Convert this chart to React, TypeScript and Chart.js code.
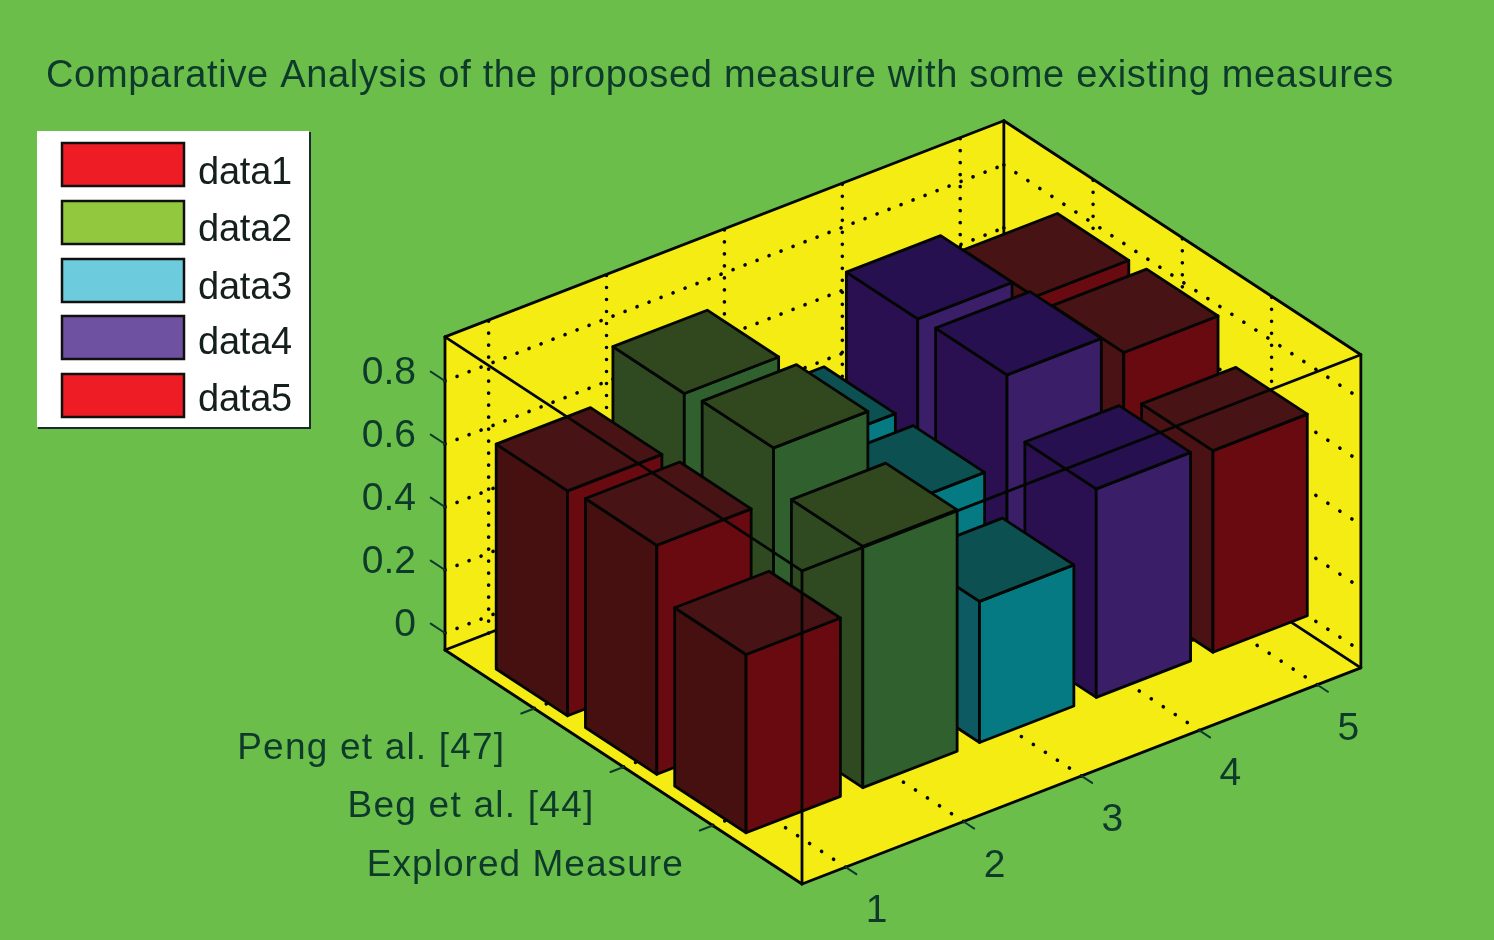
import React, { useEffect, useRef } from "react";
import { Chart, registerables } from "chart.js";

Chart.register(...registerables);

const titleText = "Comparative Analysis of the proposed measure with some existing measures";
const rowLabels = ["Explored Measure", "Beg et al. [44]", "Peng et al. [47]"];
const xTicks = [1, 2, 3, 4, 5];
const zTicks = [0, 0.2, 0.4, 0.6, 0.8];
const seriesNames = ["data1", "data2", "data3", "data4", "data5"];

// value per row: Explored, Beg, Peng
const data1 = [0.566, 0.727, 0.714];
const data2 = [0.766, 0.893, 0.88];
const data3 = [0.448, 0.556, 0.557];
const data4 = [0.662, 0.838, 0.83];
const data5 = [0.64, 0.766, 0.757];
const seriesValues = [data1, data2, data3, data4, data5];

const legendColors = ["#ee1c25", "#92c83e", "#6ccbdc", "#6f51a1", "#ee1c25"];
const leftFace = ["#461010", "#2f4a20", "#0d5a62", "#2a1050", "#4a1214"];
const rightFace = ["#680a0f", "#31602f", "#067a82", "#3a1f68", "#680a0f"];
const topFace = ["#481314", "#31481f", "#0d5052", "#27104f", "#481314"];

const BG = "#6cbe4b";
const YELLOW = "#f5ec14";
const INK = "#040604";
const TEXT = "#0d3a2a";
const FONT = '"Liberation Sans", Arial, sans-serif';

// Projection of the parallel 3D view
const B = { x: 802, y: 884 };
const EX = { x: 117.9, y: -45.6 };
const EY = { x: -89.25, y: -58.5 };
const UNIT_Z = 315;
const Z_FLOOR_OFFSET = 17;
const U_MAX = 4.74;
const V_MAX = 4;
const U_FIRST = 0.37;
const Z_MIN = -Z_FLOOR_OFFSET / UNIT_Z;
const Z_MAX = 0.94;
const BAR_LOW_U = 0.39;
const BAR_HIGH_U = 0.41;
const BAR_HALF_V = 0.4;
const BAR_STEP = 0.99;

// u: along the x axis from the near corner, v: along the row axis, z: value
function pr(u: number, v: number, z: number) {
  return {
    x: B.x + u * EX.x + v * EY.x,
    y: B.y + u * EX.y + v * EY.y - (z - Z_MIN) * UNIT_Z,
  };
}

type Pt = { x: number; y: number };
const datasets: any[] = [];

function poly(points: Pt[], fillColor: string | null, lineColor: string, width: number, dash?: number[]) {
  datasets.push({
    data: points,
    showLine: true,
    tension: 0,
    pointRadius: 0,
    pointHoverRadius: 0,
    borderColor: lineColor,
    borderWidth: width,
    borderDash: dash || [],
    borderJoinStyle: "round",
    borderCapStyle: "round",
    fill: fillColor ? "shape" : false,
    backgroundColor: fillColor || "transparent",
  });
}

function line(a: Pt, b: Pt, w = 2.8, color = INK, dash?: number[]) {
  poly([a, b], null, color, w, dash);
}

// Dotted gridline: the dots repeat every 12px along the line's longer screen direction
const DOT_W = 3.6;
const DOT_PITCH = 12;
function dotted(a: Pt, b: Pt) {
  const dx = Math.abs(b.x - a.x);
  const dy = Math.abs(b.y - a.y);
  const pitch = (DOT_PITCH * Math.hypot(dx, dy)) / Math.max(dx, dy);
  line(a, b, DOT_W, INK, [0.1, pitch - 0.1]);
}

// Yellow walls + floor
poly(
  [pr(0, V_MAX, Z_MIN), pr(0, 0, Z_MIN), pr(U_MAX, 0, Z_MIN), pr(U_MAX, 0, Z_MAX), pr(U_MAX, V_MAX, Z_MAX), pr(0, V_MAX, Z_MAX), pr(0, V_MAX, Z_MIN)],
  YELLOW,
  YELLOW,
  1,
);

// Grid
xTicks.forEach((t) => {
  const u = t - 1 + U_FIRST;
  dotted(pr(u, 0, Z_MIN), pr(u, V_MAX, Z_MIN));
  dotted(pr(u, V_MAX, Z_MIN), pr(u, V_MAX, Z_MAX));
});
rowLabels.forEach((_, i) => {
  const v = i + 1;
  dotted(pr(0, v, Z_MIN), pr(U_MAX, v, Z_MIN));
  dotted(pr(U_MAX, v, Z_MIN), pr(U_MAX, v, Z_MAX));
});
zTicks.forEach((z) => {
  dotted(pr(0, V_MAX, z), pr(U_MAX, V_MAX, z));
  dotted(pr(U_MAX, V_MAX, z), pr(U_MAX, 0, z));
});

// Back box edges
line(pr(0, V_MAX, Z_MIN), pr(U_MAX, V_MAX, Z_MIN));
line(pr(U_MAX, V_MAX, Z_MIN), pr(U_MAX, 0, Z_MIN));
line(pr(U_MAX, V_MAX, Z_MIN), pr(U_MAX, V_MAX, Z_MAX));
line(pr(0, V_MAX, Z_MIN), pr(0, V_MAX, Z_MAX));
line(pr(U_MAX, 0, Z_MIN), pr(U_MAX, 0, Z_MAX));
line(pr(0, V_MAX, Z_MAX), pr(U_MAX, V_MAX, Z_MAX));
line(pr(U_MAX, V_MAX, Z_MAX), pr(U_MAX, 0, Z_MAX));

// Bars, painted from back to front
for (let s = seriesValues.length - 1; s >= 0; s--) {
  for (let r = rowLabels.length - 1; r >= 0; r--) {
    const z = seriesValues[s][r];
    const u = (xTicks[s] - 1) * BAR_STEP + U_FIRST;
    const v = r + 1;
    const u0 = u - BAR_LOW_U;
    const u1 = u + BAR_HIGH_U;
    const v0 = v - BAR_HALF_V;
    const v1 = v + BAR_HALF_V;
    poly([pr(u0, v0, 0), pr(u0, v1, 0), pr(u0, v1, z), pr(u0, v0, z), pr(u0, v0, 0)], leftFace[s], INK, 2.8);
    poly([pr(u0, v0, 0), pr(u1, v0, 0), pr(u1, v0, z), pr(u0, v0, z), pr(u0, v0, 0)], rightFace[s], INK, 2.8);
    poly([pr(u0, v0, z), pr(u1, v0, z), pr(u1, v1, z), pr(u0, v1, z), pr(u0, v0, z)], topFace[s], INK, 2.8);
  }
}

// Front box edges
line(pr(0, 0, Z_MIN), pr(0, 0, Z_MAX));
line(pr(0, V_MAX, Z_MAX), pr(0, 0, Z_MAX));
line(pr(0, 0, Z_MAX), pr(U_MAX, 0, Z_MAX));
line(pr(0, V_MAX, Z_MIN), pr(0, 0, Z_MIN));
line(pr(0, 0, Z_MIN), pr(U_MAX, 0, Z_MIN));

// Tick marks
xTicks.forEach((t) => {
  const u = t - 1 + U_FIRST;
  line(pr(u, 0, Z_MIN), pr(u, -0.12, Z_MIN), 2, TEXT);
});
rowLabels.forEach((_, i) => {
  line(pr(0, i + 1, Z_MIN), pr(-0.11, i + 1, Z_MIN), 2, TEXT);
});
zTicks.forEach((z) => {
  line(pr(0, V_MAX, z), pr(0, V_MAX + 0.16, z), 2, TEXT);
});

function fitText(ctx: CanvasRenderingContext2D, text: string, x: number, y: number, width: number) {
  (ctx as any).letterSpacing = "0px";
  const w = ctx.measureText(text).width;
  (ctx as any).letterSpacing = `${(width - w) / text.length}px`;
  ctx.fillText(text, x, y);
  (ctx as any).letterSpacing = "0px";
}

const legendTops = [143, 201, 259, 316, 374];
const legendBaselines = [184, 241, 299, 354, 411];
const rowTextWidths = [317, 247, 268];

const textPlugin = {
  id: "textLayer",
  afterDraw(chart: any) {
    const ctx: CanvasRenderingContext2D = chart.ctx;
    ctx.save();
    ctx.textAlign = "left";
    ctx.textBaseline = "alphabetic";
    ctx.fillStyle = TEXT;
    ctx.font = `38px ${FONT}`;
    fitText(ctx, titleText, 46, 87, 1348);

    // legend
    ctx.fillStyle = "#1a2a30";
    ctx.fillRect(38, 132, 273, 297);
    ctx.fillStyle = "#ffffff";
    ctx.fillRect(37, 131, 272, 296);
    seriesNames.forEach((name, i) => {
      ctx.fillStyle = legendColors[i];
      ctx.strokeStyle = "#10100f";
      ctx.lineWidth = 2.5;
      ctx.fillRect(62, legendTops[i], 122, 43);
      ctx.strokeRect(62, legendTops[i], 122, 43);
      ctx.fillStyle = "#15201c";
      ctx.font = `38px ${FONT}`;
      fitText(ctx, name, 198, legendBaselines[i], 94);
    });

    ctx.fillStyle = TEXT;
    ctx.font = `39px ${FONT}`;
    zTicks.forEach((z) => {
      const p = pr(0, V_MAX, z);
      ctx.textAlign = "right";
      ctx.fillText(String(z), 416, p.y + 3);
    });
    ctx.textAlign = "left";
    ctx.font = `37px ${FONT}`;
    rowLabels.forEach((lab, i) => {
      const p = pr(0, i + 1, Z_MIN);
      const w = rowTextWidths[i];
      fitText(ctx, lab, p.x - 29 - w, p.y + 50, w);
    });
    ctx.textAlign = "center";
    ctx.font = `39px ${FONT}`;
    xTicks.forEach((t) => {
      const p = pr(t - 1 + U_FIRST, 0, Z_MIN);
      ctx.fillText(String(t), p.x + 31, p.y + 55);
    });
    ctx.restore();
  },
};

export default function App() {
  const ref = useRef<HTMLCanvasElement>(null);
  useEffect(() => {
    document.body.style.margin = "0";
    const chart = new Chart(ref.current as HTMLCanvasElement, {
      type: "line",
      data: { datasets: datasets.slice().reverse() },
      options: {
        animation: false,
        responsive: false,
        layout: { padding: 0 },
        events: [],
        plugins: { legend: { display: false }, tooltip: { enabled: false }, title: { display: false } },
        scales: {
          x: { type: "linear", display: false, min: 0, max: 1494 },
          y: { type: "linear", display: false, min: 0, max: 940, reverse: true },
        },
      },
      plugins: [textPlugin],
    } as any);
    return () => chart.destroy();
  }, []);
  return (
    <div style={{ position: "fixed", left: 0, top: 0, width: 1494, height: 940, background: BG, overflow: "hidden" }}>
      <canvas ref={ref} width={1494} height={940} style={{ display: "block", filter: "blur(0.6px)" }} />
    </div>
  );
}
